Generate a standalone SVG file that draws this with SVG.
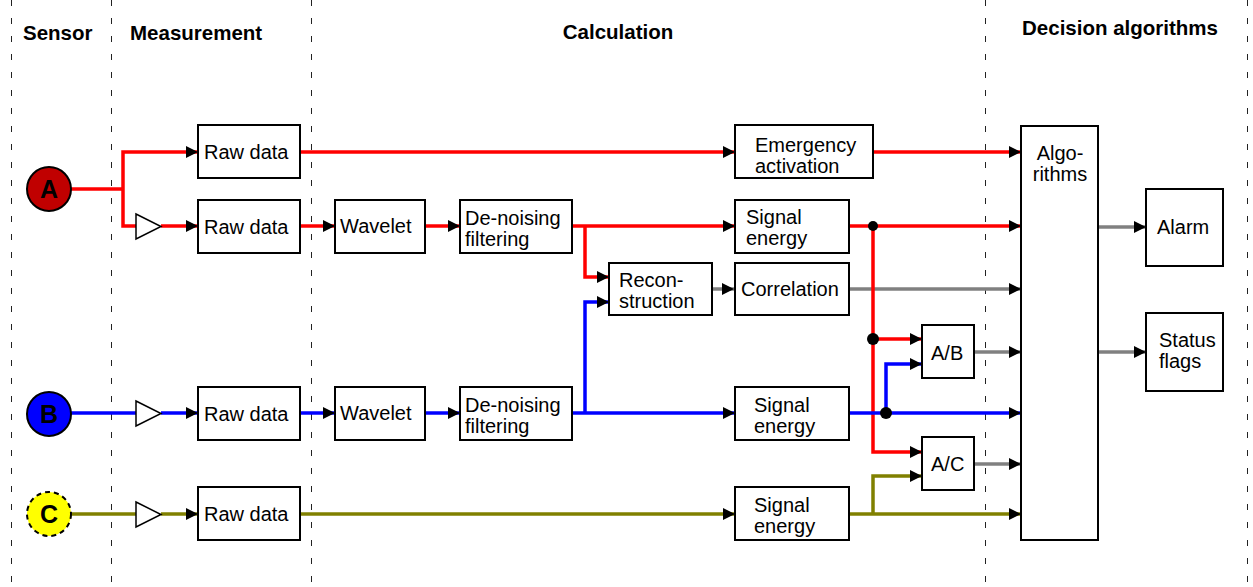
<svg xmlns="http://www.w3.org/2000/svg" width="1253" height="587" viewBox="0 0 1253 587">
<style>
.lane{stroke:#222;stroke-width:1;stroke-dasharray:6 12;fill:none}
.hdr{font-family:"Liberation Sans",Arial,sans-serif;font-weight:bold;font-size:20.5px;fill:#000}
.box{fill:#fff;stroke:#000;stroke-width:2}
.t{font-family:"Liberation Sans",Arial,sans-serif;font-size:20px;fill:#000}
.amp{fill:#fff;stroke:#000;stroke-width:1.5}
.sl{font-family:"Liberation Sans",Arial,sans-serif;font-weight:bold;font-size:25px;fill:#000;text-anchor:middle}
.c{fill:none;stroke-width:3.5}
.r{stroke:#ff0000}.b{stroke:#0000ff}.o{stroke:#808000}.g{stroke:#808080}
.a{marker-end:url(#arr)}
</style>
<defs>
<marker id="arr" markerWidth="13" markerHeight="13" refX="12" refY="6" orient="auto" markerUnits="userSpaceOnUse"><path d="M0,0 L12,6 L0,12 z" fill="#000"/></marker>
</defs>
<g id="lanes">
<line class="lane" x1="11.5" y1="0" x2="11.5" y2="587"/>
<line class="lane" x1="111.5" y1="0" x2="111.5" y2="587"/>
<line class="lane" x1="311.5" y1="0" x2="311.5" y2="587"/>
<line class="lane" x1="985.5" y1="0" x2="985.5" y2="587"/>
<line class="lane" x1="1247.5" y1="0" x2="1247.5" y2="587"/>
</g>
<g id="headers">
<text class="hdr" x="23" y="40">Sensor</text>
<text class="hdr" x="130" y="40">Measurement</text>
<text class="hdr" x="618" y="39" text-anchor="middle">Calculation</text>
<text class="hdr" x="1120" y="35" text-anchor="middle" font-size="21">Decision algorithms</text>
</g>
<g id="connectors">
<path class="c g a" d="M712 289 H734"/>
<path class="c g a" d="M849 289 H1021"/>
<path class="c g a" d="M974 352 H1021"/>
<path class="c g a" d="M974 464 H1021"/>
<path class="c g a" d="M1098 227 H1146"/>
<path class="c g a" d="M1098 352 H1146"/>
<path class="c r" d="M71 189 H123"/>
<path class="c r a" d="M123 189 V152 H198"/>
<path class="c r" d="M123 189 V226 H136"/>
<path class="c r a" d="M161 226 H198"/>
<path class="c r a" d="M300 152 H735"/>
<path class="c r a" d="M873 152 H1021"/>
<path class="c r a" d="M300 226 H335"/>
<path class="c r a" d="M425 226 H460"/>
<path class="c r a" d="M572 226 H735"/>
<path class="c r a" d="M585 226 V277 H609"/>
<path class="c r a" d="M849 226 H1021"/>
<path class="c r a" d="M873 226 V452 H922"/>
<path class="c r a" d="M873 339 H922"/>
<path class="c b" d="M71 413 H136"/>
<path class="c b a" d="M161 413 H198"/>
<path class="c b a" d="M300 413 H335"/>
<path class="c b a" d="M425 413 H460"/>
<path class="c b a" d="M572 413 H735"/>
<path class="c b a" d="M585 413 V302 H609"/>
<path class="c b a" d="M849 413 H1021"/>
<path class="c b a" d="M886 413 V364 H922"/>
<path class="c o" d="M71 514 H136"/>
<path class="c o a" d="M161 514 H198"/>
<path class="c o a" d="M300 514 H735"/>
<path class="c o a" d="M849 514 H1021"/>
<path class="c o a" d="M873 514 V476 H922"/>
<circle cx="873" cy="226" r="5" fill="#000"/>
<circle cx="873" cy="339" r="6" fill="#000"/>
<circle cx="886" cy="413" r="6" fill="#000"/>
</g>
<g id="sensorA"><circle cx="49" cy="189" r="22" fill="#c00000" stroke="#000" stroke-width="2"/><text class="sl" x="49" y="198">A</text></g>
<g id="sensorB"><circle cx="49" cy="414" r="22" fill="#0000ff" stroke="#000" stroke-width="2"/><text class="sl" x="49" y="423">B</text></g>
<g id="sensorC"><circle cx="49" cy="514" r="22" fill="#ffff00" stroke="#000" stroke-width="2" stroke-dasharray="5 4"/><text class="sl" x="49" y="523">C</text></g>
<g id="ampA"><polygon class="amp" points="136,214 161,226.5 136,239"/></g>
<g id="ampB"><polygon class="amp" points="136,401 161,413.5 136,426"/></g>
<g id="ampC"><polygon class="amp" points="136,502 161,514.5 136,527"/></g>
<g id="rawA1"><rect class="box" x="198" y="125" width="102" height="53"/><text class="t" x="204" y="159">Raw data</text></g>
<g id="rawA2"><rect class="box" x="198" y="200" width="102" height="53"/><text class="t" x="204" y="234">Raw data</text></g>
<g id="rawB"><rect class="box" x="198" y="387" width="102" height="53"/><text class="t" x="204" y="421">Raw data</text></g>
<g id="rawC"><rect class="box" x="198" y="487" width="102" height="53"/><text class="t" x="204" y="521">Raw data</text></g>
<g id="waveA"><rect class="box" x="335" y="200" width="90" height="53"/><text class="t" x="340" y="233">Wavelet</text></g>
<g id="waveB"><rect class="box" x="335" y="387" width="90" height="53"/><text class="t" x="340" y="420">Wavelet</text></g>
<g id="denA"><rect class="box" x="460" y="200" width="112" height="53"/><text class="t" x="465" y="225">De-noising</text><text class="t" x="465" y="246">filtering</text></g>
<g id="denB"><rect class="box" x="460" y="387" width="112" height="53"/><text class="t" x="465" y="412">De-noising</text><text class="t" x="465" y="433">filtering</text></g>
<g id="recon"><rect class="box" x="609" y="263" width="103" height="52"/><text class="t" x="619" y="287">Recon-</text><text class="t" x="619" y="308">struction</text></g>
<g id="corr"><rect class="box" x="735" y="263" width="114" height="52"/><text class="t" x="741" y="296">Correlation</text></g>
<g id="emerg"><rect class="box" x="735" y="125" width="138" height="53"/><text class="t" x="755" y="152">Emergency</text><text class="t" x="755" y="173">activation</text></g>
<g id="sigA"><rect class="box" x="735" y="200" width="114" height="53"/><text class="t" x="746" y="224">Signal</text><text class="t" x="746" y="245">energy</text></g>
<g id="sigB"><rect class="box" x="735" y="387" width="114" height="53"/><text class="t" x="754" y="412">Signal</text><text class="t" x="754" y="433">energy</text></g>
<g id="sigC"><rect class="box" x="735" y="487" width="114" height="53"/><text class="t" x="754" y="512">Signal</text><text class="t" x="754" y="533">energy</text></g>
<g id="ab"><rect class="box" x="922" y="325" width="52" height="53"/><text class="t" x="931" y="360">A/B</text></g>
<g id="ac"><rect class="box" x="922" y="437" width="52" height="53"/><text class="t" x="931" y="471">A/C</text></g>
<g id="algo"><rect class="box" x="1021" y="126" width="77" height="414"/><text class="t" x="1060" y="160" text-anchor="middle">Algo-</text><text class="t" x="1060" y="181" text-anchor="middle">rithms</text></g>
<g id="alarm"><rect class="box" x="1146" y="189" width="77" height="77"/><text class="t" x="1157" y="234">Alarm</text></g>
<g id="status"><rect class="box" x="1146" y="313" width="77" height="78"/><text class="t" x="1159" y="347">Status</text><text class="t" x="1159" y="368">flags</text></g>
</svg>
